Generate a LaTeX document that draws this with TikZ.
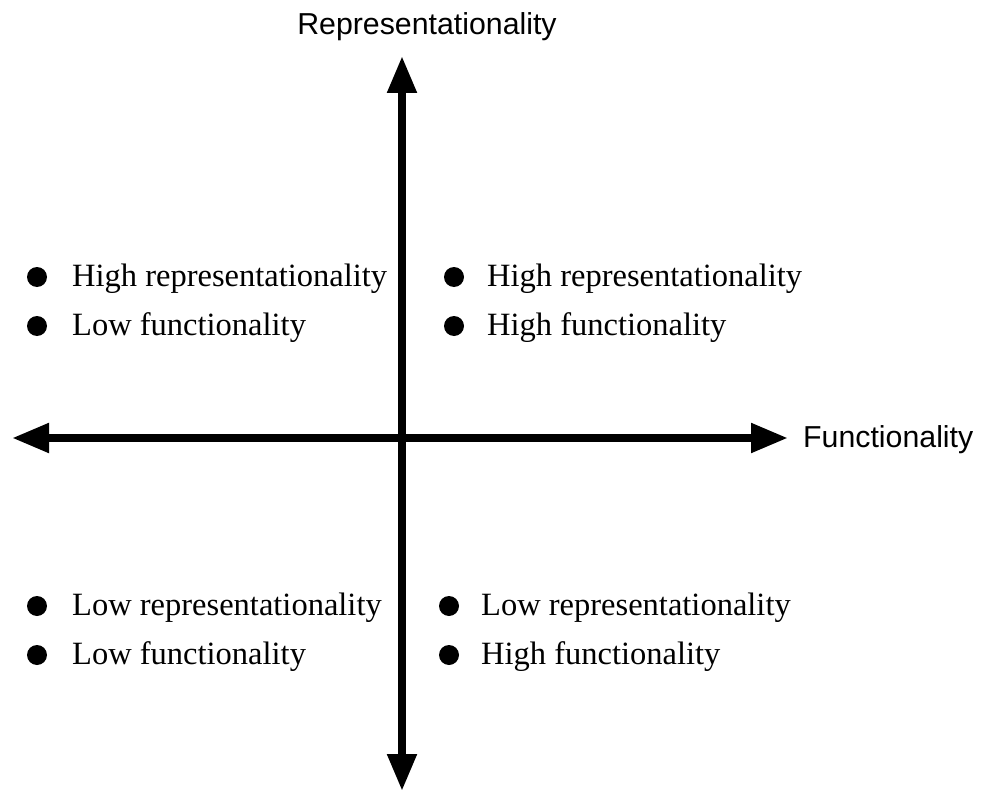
\documentclass[tikz,border=0pt]{standalone}
\usepackage{fontspec}
\setmainfont{Liberation Serif}
\setsansfont{Liberation Sans}
\usetikzlibrary{arrows.meta,positioning}

\tikzset{
  axis/.style={line width=8pt,-{Triangle[length=37pt,width=28pt]}},
  axislabel/.style={font=\sffamily\fontsize{30.3}{30}\selectfont,inner sep=0pt},
  item/.style={anchor=base west,inner sep=0pt,font=\fontsize{32.5}{33}\selectfont},
  dot/.style={circle,fill=black,minimum size=20pt,inner sep=0pt}
}

\begin{document}
\begin{tikzpicture}[x=1pt,y=-1pt]
\useasboundingbox (0,0) rectangle (989,792);

% Axes
\coordinate (o) at (402,438);
\coordinate (top) at (402,56);
\coordinate (bot) at (402,791);
\coordinate (lft) at (12,438);
\coordinate (rgt) at (788,438);
\draw[axis] (o) -- (top);
\draw[axis] (o) -- (bot);
\draw[axis] (o) -- (lft);
\draw[axis] (o) -- (rgt);

\node[axislabel,anchor=base] (rlab) at (427,35) {Representationality};
\node[axislabel,anchor=base west] (flab) at (803,447) {Functionality};

% Upper left
\node[dot] (ul1) at (37,277) {};
\node[dot] (ul2) at (37,326) {};
\node[item] (ult1) at (72,286) {High representationality};
\node[item] (ult2) at (72,335) {Low functionality};

% Upper right
\node[dot] (ur1) at (454,277) {};
\node[dot] (ur2) at (454,326) {};
\node[item] (urt1) at (487,286) {High representationality};
\node[item] (urt2) at (487,335) {High functionality};

% Lower left
\node[dot] (ll1) at (37,606) {};
\node[dot] (ll2) at (37,655) {};
\node[item] (llt1) at (72,615) {Low representationality};
\node[item] (llt2) at (72,664) {Low functionality};

% Lower right
\node[dot] (lr1) at (449,606) {};
\node[dot] (lr2) at (449,655) {};
\node[item] (lrt1) at (481,615) {Low representationality};
\node[item] (lrt2) at (481,664) {High functionality};
\end{tikzpicture}
\end{document}
